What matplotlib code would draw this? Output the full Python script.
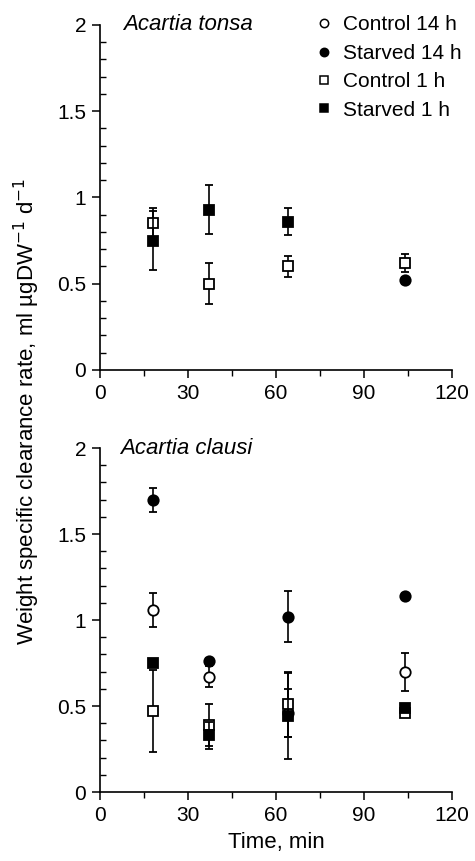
import matplotlib
matplotlib.use("Agg")
import matplotlib.pyplot as plt
from matplotlib.lines import Line2D
from matplotlib.ticker import MultipleLocator, FuncFormatter

plt.rcParams['font.family'] = ['Liberation Sans', 'DejaVu Sans']

# Acartia tonsa (upper panel)
tonsa_c1_x = [18, 37, 64, 104]
tonsa_c1_y = [0.85, 0.50, 0.60, 0.62]
tonsa_c1_e = [0.09, 0.12, 0.06, 0.05]
tonsa_s1_x = [18, 37, 64]
tonsa_s1_y = [0.75, 0.93, 0.86]
tonsa_s1_e = [0.17, 0.14, 0.08]
tonsa_s14_x = [104]
tonsa_s14_y = [0.52]
tonsa_s14_e = [0.02]

# Acartia clausi (lower panel)
clausi_c14_x = [18, 37, 64, 104]
clausi_c14_y = [1.06, 0.67, 0.46, 0.70]
clausi_c14_e = [0.10, 0.06, 0.14, 0.11]
clausi_s14_x = [18, 37, 64, 104]
clausi_s14_y = [1.70, 0.76, 1.02, 1.14]
clausi_s14_e = [0.07, 0.02, 0.15, 0.02]
clausi_c1_x = [18, 37, 64, 104]
clausi_c1_y = [0.47, 0.39, 0.51, 0.46]
clausi_c1_e = [0.24, 0.12, 0.19, 0.02]
clausi_s1_x = [18, 37, 64, 104]
clausi_s1_y = [0.75, 0.33, 0.44, 0.49]
clausi_s1_e = [0.02, 0.08, 0.25, 0.02]

labels = ['Control 14 h', 'Starved 14 h', 'Control 1 h', 'Starved 1 h']

styles = {
    'c14': dict(marker='o', mfc='white', mec='black'),
    's14': dict(marker='o', mfc='black', mec='black'),
    'c1': dict(marker='s', mfc='white', mec='black'),
    's1': dict(marker='s', mfc='black', mec='black'),
}


def draw_series(ax, x, y, e, key, z):
    ax.errorbar(x, y, yerr=e, linestyle='none', color='black', ecolor='black',
                elinewidth=1.2, capsize=3, capthick=1.2, markersize=7.5,
                markeredgewidth=1.3, zorder=z, clip_on=False, **styles[key])


def style_axes(ax):
    ax.set_xlim(0, 120)
    ax.set_ylim(0, 2)
    for s in ['top', 'right']:
        ax.spines[s].set_visible(False)
    ax.spines['left'].set_linewidth(1.2)
    ax.spines['bottom'].set_linewidth(1.2)
    ax.xaxis.set_major_locator(MultipleLocator(30))
    ax.xaxis.set_minor_locator(MultipleLocator(15))
    ax.yaxis.set_major_locator(MultipleLocator(0.5))
    ax.yaxis.set_minor_locator(MultipleLocator(0.1))
    ax.yaxis.set_major_formatter(FuncFormatter(lambda v, p: '%g' % v))
    ax.tick_params(axis='both', which='major', direction='out', length=6,
                   width=1.1, labelsize=15, pad=4)
    ax.tick_params(axis='x', which='minor', direction='out', length=4, width=1.0)
    ax.tick_params(axis='y', which='minor', direction='in', length=4, width=1.0)


fig = plt.figure(figsize=(4.75, 8.61), dpi=100)
ax1 = fig.add_axes([0.2105, 0.5703, 0.741, 0.4007])
ax2 = fig.add_axes([0.2105, 0.0801, 0.741, 0.3995])

draw_series(ax1, tonsa_s14_x, tonsa_s14_y, tonsa_s14_e, 's14', 3)
draw_series(ax1, tonsa_c1_x, tonsa_c1_y, tonsa_c1_e, 'c1', 4)
draw_series(ax1, tonsa_s1_x, tonsa_s1_y, tonsa_s1_e, 's1', 5)

draw_series(ax2, clausi_c14_x, clausi_c14_y, clausi_c14_e, 'c14', 2)
draw_series(ax2, clausi_s14_x, clausi_s14_y, clausi_s14_e, 's14', 3)
draw_series(ax2, clausi_c1_x, clausi_c1_y, clausi_c1_e, 'c1', 4)
draw_series(ax2, clausi_s1_x, clausi_s1_y, clausi_s1_e, 's1', 5)

style_axes(ax1)
style_axes(ax2)

ax1.text(8, 2.0, 'Acartia tonsa', style='italic', fontsize=16, va='center', ha='left')
ax2.text(7, 2.0, 'Acartia clausi', style='italic', fontsize=16, va='center', ha='left')

handles = [Line2D([], [], linestyle='none', markersize=6, markeredgewidth=1.1,
                  **styles[k]) for k in ['c14', 's14', 'c1', 's1']]
fig.legend(handles, labels, loc='upper left', bbox_to_anchor=(0.634, 0.999),
           frameon=False, fontsize=15, handlelength=0.8, handletextpad=0.5,
           labelspacing=0.45, borderpad=0.2)

ax2.set_xlabel('Time, min', fontsize=16, labelpad=5)
fig.text(0.057, 0.5226, 'Weight specific clearance rate, ml µgDW$^{-1}$ d$^{-1}$',
         rotation=90, fontsize=16, ha='center', va='center')

fig.savefig('out.png', dpi=100)
